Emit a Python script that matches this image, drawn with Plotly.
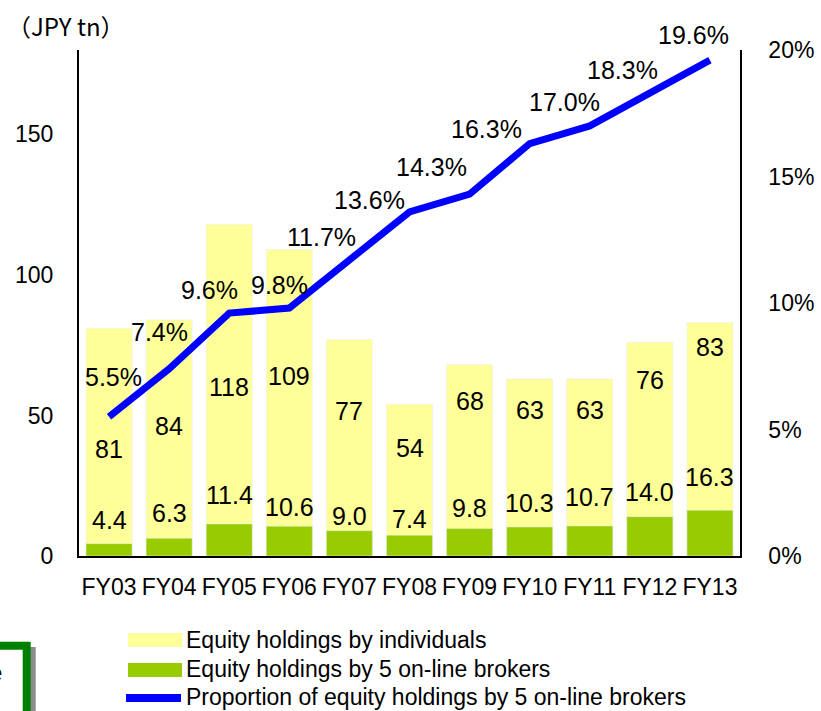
import plotly.graph_objects as go

# Fiscal years and values
years = ["FY03", "FY04", "FY05", "FY06", "FY07", "FY08", "FY09", "FY10", "FY11", "FY12", "FY13"]
individuals = [81, 84, 118, 109, 77, 54, 68, 63, 63, 76, 83]            # JPY tn
online_brokers = [4.4, 6.3, 11.4, 10.6, 9.0, 7.4, 9.8, 10.3, 10.7, 14.0, 16.3]  # JPY tn
proportion = [5.5, 7.4, 9.6, 9.8, 11.7, 13.6, 14.3, 16.3, 17.0, 18.3, 19.6]     # %
pct_ticks = [0, 5, 10, 15, 20]

# Label offsets (pixels) to keep value labels clear of the line
indiv_label_shift = [-121, -106, -163, -126, -71, -44, -36, -31, -31, -38, -24]
broker_label_shift = [24, 25, 29, 19, 15, 16, 20, 24, 29, 25, 33]
prop_label_dx = [4, -10, -20, -10, -28, -40, -38, -43, -25, -27, -16]
prop_label_dy = [40, 37, 23, 23, 23, 12, 27, 15, 24, 23, 25]

FONT = "Arial, 'Liberation Sans', 'Noto Sans CJK JP', sans-serif"
YELLOW = "#FFFF99"
GREEN = "#99CC00"
BLUE = "#0000FF"

W, H = 821, 711
L, R, T, B = 79, 81, 50, 155
PW, PH = W - L - R, H - T - B


def px(x):
    return (x - L) / PW


def py(y):
    return (H - B - y) / PH


fig = go.Figure()
fig.add_trace(go.Bar(x=years, y=individuals, marker_color=YELLOW, width=0.766,
                     name="Equity holdings by individuals"))
fig.add_trace(go.Bar(x=years, y=online_brokers, marker_color=GREEN, width=0.766,
                     name="Equity holdings by 5 on-line brokers"))
fig.add_trace(go.Scatter(x=years, y=proportion, yaxis="y2", mode="lines",
                         line=dict(color=BLUE, width=7),
                         name="Proportion of equity holdings by 5 on-line brokers"))

LBL = 25
annotations = []
for yr, v, s in zip(years, individuals, indiv_label_shift):
    annotations.append(dict(x=yr, y=v, xref="x", yref="y", text=f"{v:d}", showarrow=False,
                            yshift=s, yanchor="middle", font=dict(size=LBL, color="black")))
for yr, v, s in zip(years, online_brokers, broker_label_shift):
    annotations.append(dict(x=yr, y=v, xref="x", yref="y", text=f"{v:.1f}", showarrow=False,
                            yshift=s, yanchor="middle", font=dict(size=LBL, color="black")))
for yr, v, dx, dy in zip(years, proportion, prop_label_dx, prop_label_dy):
    annotations.append(dict(x=yr, y=v, xref="x", yref="y2", text=f"{v:.1f}%", showarrow=False,
                            xshift=dx, yshift=dy, yanchor="middle", font=dict(size=LBL, color="black")))

# Unit label
annotations.append(dict(x=px(66), y=py(25), xref="paper", yref="paper", text="（JPY tn）",
                        showarrow=False, xanchor="center", yanchor="middle",
                        font=dict(size=24, color="black",
                                  family="'Noto Sans CJK JP', 'Liberation Sans', sans-serif")))

# Legend
legend_rows = [
    ("Equity holdings by individuals", 640),
    ("Equity holdings by 5 on-line brokers", 669),
    ("Proportion of equity holdings by 5 on-line brokers", 697),
]
for txt, yy in legend_rows:
    annotations.append(dict(x=px(184), y=py(yy), xref="paper", yref="paper", text=txt,
                            showarrow=False, xanchor="left", yanchor="middle",
                            font=dict(size=23, color="black")))

# Partially visible boxed note at lower left
annotations.append(dict(x=px(4), y=py(672), xref="paper", yref="paper", text="e",
                        showarrow=False, xanchor="right", yanchor="middle",
                        font=dict(size=24, color="black")))

shapes = [
    dict(type="rect", xref="paper", yref="paper", x0=px(128), x1=px(182), y0=py(647), y1=py(633),
         fillcolor=YELLOW, line=dict(width=0)),
    dict(type="rect", xref="paper", yref="paper", x0=px(128), x1=px(182), y0=py(677), y1=py(663),
         fillcolor=GREEN, line=dict(width=0)),
    dict(type="line", xref="paper", yref="paper", x0=px(126), x1=px(181), y0=py(698), y1=py(698),
         line=dict(color=BLUE, width=8)),
    dict(type="rect", xref="paper", yref="paper", x0=px(-60), x1=px(35.7), y0=py(760), y1=py(647),
         fillcolor="#8C8C8C", line=dict(width=0)),
    dict(type="rect", xref="paper", yref="paper", x0=px(-60), x1=px(26.7), y0=py(760), y1=py(645.8),
         fillcolor="white", line=dict(color="#008000", width=8)),
]

fig.update_layout(
    width=W, height=H,
    margin=dict(l=L, r=R, t=T, b=B, pad=0, autoexpand=False),
    paper_bgcolor="white", plot_bgcolor="white",
    barmode="overlay", bargap=0.234,
    showlegend=False,
    font=dict(family=FONT, size=23, color="black"),
    xaxis=dict(showline=True, linecolor="black", linewidth=2, ticks="", showgrid=False,
               automargin=False, ticklabelstandoff=9, tickfont=dict(size=23)),
    yaxis=dict(range=[0, 180], tickvals=[0, 50, 100, 150], showline=True, linecolor="black",
               linewidth=2, ticks="", showgrid=False, zeroline=False, automargin=False,
               ticklabelstandoff=19, tickfont=dict(size=23)),
    yaxis2=dict(range=[0, 20], tickmode="array", tickvals=pct_ticks,
                ticktext=[f"{t}%" for t in pct_ticks], overlaying="y", automargin=False,
                side="right", showline=True, linecolor="black", linewidth=1.5, ticks="",
                showgrid=False, zeroline=False, ticklabelstandoff=22, tickfont=dict(size=23)),
    annotations=annotations,
    shapes=shapes,
)

fig.write_html("out.html")
